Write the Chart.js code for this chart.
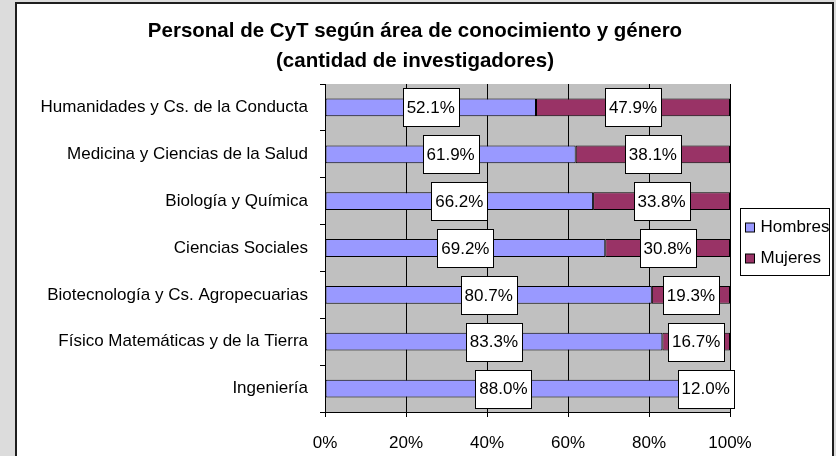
<!DOCTYPE html>
<html>
<head>
<meta charset="utf-8">
<script src="https://cdn.jsdelivr.net/npm/chart.js@4.4.0/dist/chart.umd.min.js"></script>
<style>
  html, body { margin: 0; padding: 0; }
  body { width: 836px; height: 456px; overflow: hidden; background: #dcdcdc; position: relative; }
  .frame { position: absolute; left: 15px; top: 2px; width: 819px; height: 520px; box-sizing: border-box;
           border: 2px solid #1e1e1e; background: #fff; }
  #chart { position: absolute; left: 0; top: 0; }
</style>
</head>
<body>
<div class="frame"></div>
<canvas id="chart" width="836" height="456"></canvas>
<script>
// Categories (top to bottom) and series values in percent
const areas = [
    'Humanidades y Cs. de la Conducta',
    'Medicina y Ciencias de la Salud',
    'Biología y Química',
    'Ciencias Sociales',
    'Biotecnología y Cs. Agropecuarias',
    'Físico Matemáticas y de la Tierra',
    'Ingeniería'
];
const hombres = [52.1, 61.9, 66.2, 69.2, 80.7, 83.3, 88.0];
const mujeres = [47.9, 38.1, 33.8, 30.8, 19.3, 16.7, 12.0];
const seriesNames = ['Hombres', 'Mujeres'];
const xTicks = [0, 20, 40, 60, 80, 100];
const titleLines = ['Personal de CyT según área de conocimiento y género', '(cantidad de investigadores)'];

const family = '"Liberation Sans", Arial, sans-serif';
const textSize = 17;
const titleSize = 20.5;
const colors = ['#9999ff', '#993366'];

// Gray plot area
const plotBackground = {
    id: 'plotBackground',
    beforeDraw(chart) {
        const a = chart.chartArea;
        const ctx = chart.ctx;
        ctx.save();
        ctx.fillStyle = '#c0c0c0';
        ctx.fillRect(a.left, a.top, a.right - a.left, a.bottom - a.top);
        ctx.restore();
    }
};

// Two line bold title centred on the whole frame
const frameTitle = {
    id: 'frameTitle',
    afterDraw(chart) {
        const ctx = chart.ctx;
        ctx.save();
        ctx.font = 'bold ' + titleSize + 'px ' + family;
        ctx.fillStyle = '#000';
        ctx.textAlign = 'center';
        ctx.textBaseline = 'middle';
        titleLines.forEach((line, i) => ctx.fillText(line, 415, 31 + i * 30));
        ctx.restore();
    }
};

// White boxed value labels in the middle of every segment
const boxLabels = {
    id: 'boxLabels',
    afterDatasetsDraw(chart) {
        const ctx = chart.ctx;
        ctx.save();
        ctx.font = textSize + 'px ' + family;
        ctx.textAlign = 'center';
        ctx.textBaseline = 'middle';
        chart.data.datasets.forEach((ds, di) => {
            chart.getDatasetMeta(di).data.forEach((bar, i) => {
                const p = bar.getCenterPoint();
                const txt = ds.data[i].toFixed(1) + '%';
                const w = Math.round(ctx.measureText(txt).width + 8);
                const h = 38;
                const x = Math.round(p.x - w / 2) + 0.5;
                const y = Math.round(p.y - h / 2) + 0.5;
                ctx.fillStyle = '#fff';
                ctx.fillRect(x, y, w, h);
                ctx.strokeStyle = '#000';
                ctx.lineWidth = 1;
                ctx.strokeRect(x, y, w, h);
                ctx.fillStyle = '#000';
                ctx.fillText(txt, p.x, p.y + 1);
            });
        });
        ctx.restore();
    }
};

// Boxed legend to the right of the plot
const boxLegend = {
    id: 'boxLegend',
    afterDraw(chart) {
        const a = chart.chartArea;
        const ctx = chart.ctx;
        const left = a.right + 10.5;
        const top = Math.round((a.top + a.bottom) / 2 - 40) + 0.5;
        ctx.save();
        ctx.strokeStyle = '#000';
        ctx.lineWidth = 1;
        ctx.fillStyle = '#fff';
        ctx.fillRect(left, top, 89, 67);
        ctx.strokeRect(left, top, 89, 67);
        ctx.font = textSize + 'px ' + family;
        ctx.textBaseline = 'middle';
        seriesNames.forEach((name, i) => {
            const cy = top + 19 + i * 31;
            ctx.fillStyle = colors[i];
            ctx.fillRect(left + 5, Math.round(cy - 5), 9, 9);
            ctx.strokeRect(left + 5, Math.round(cy - 5), 9, 9);
            ctx.fillStyle = '#000';
            ctx.fillText(name, left + 20, cy);
        });
        ctx.restore();
    }
};

const ctx = document.getElementById('chart').getContext('2d');
new Chart(ctx, {
    type: 'bar',
    data: {
        labels: areas,
        datasets: [hombres, mujeres].map((vals, i) => ({
            label: seriesNames[i],
            data: vals,
            backgroundColor: colors[i],
            borderColor: '#000',
            borderWidth: 1,
            borderSkipped: false,
            categoryPercentage: 1,
            barPercentage: 0.38
        }))
    },
    options: {
        indexAxis: 'y',
        responsive: false,
        devicePixelRatio: 1,
        animation: false,
        layout: { padding: { left: 0, right: 106, top: 84, bottom: 0 } },
        plugins: {
            legend: { display: false },
            tooltip: { enabled: false },
            title: { display: false }
        },
        scales: {
            x: {
                stacked: true,
                min: 0,
                max: 100,
                afterBuildTicks(scale) { scale.ticks = xTicks.map(v => ({ value: v })); },
                afterFit(scale) { scale.height = 44; },
                ticks: {
                    color: '#000',
                    padding: 16,
                    maxRotation: 0,
                    font: { family: family, size: textSize },
                    callback: v => v + '%'
                },
                grid: { color: '#000', lineWidth: 1, tickLength: 5, drawTicks: true },
                border: { color: '#000', width: 1 }
            },
            y: {
                stacked: true,
                afterFit(scale) { scale.width = 325; },
                ticks: {
                    color: '#000',
                    padding: 12,
                    font: { family: family, size: textSize }
                },
                grid: { drawOnChartArea: false, color: '#000', tickLength: 5, offset: true },
                border: { color: '#000', width: 1 }
            }
        }
    },
    plugins: [plotBackground, frameTitle, boxLabels, boxLegend]
});
</script>
</body>
</html>
